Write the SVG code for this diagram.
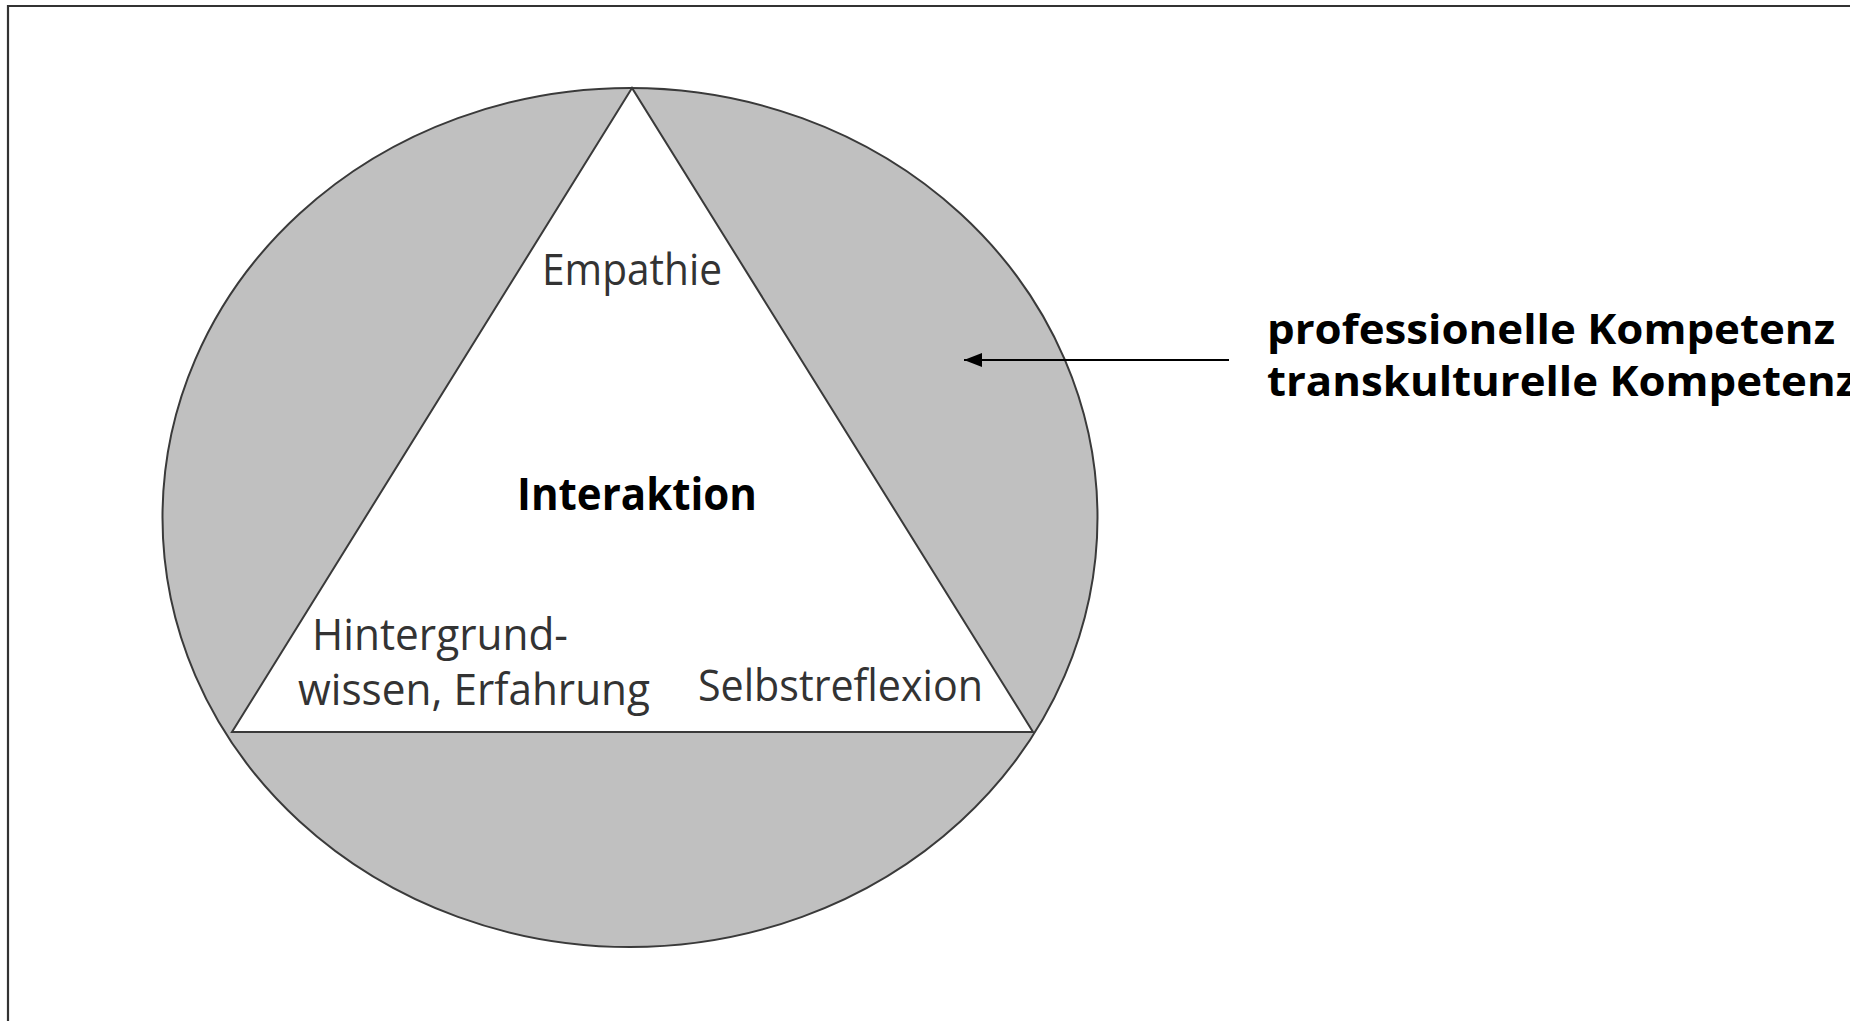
<svg xmlns="http://www.w3.org/2000/svg" width="1850" height="1021" viewBox="0 0 1850 1021">
  <defs>
    <style>
      .outline { fill: none; stroke: #333333; stroke-width: 2.2; }
      .shape { stroke: #3a3a3a; stroke-width: 2; }
      .label { font-family: "Open Sans", "Noto Sans", "DejaVu Sans", sans-serif; font-size: 44px; fill: #333333; }
      .bold { font-family: "Open Sans", "Noto Sans", "DejaVu Sans", sans-serif; font-weight: bold; fill: #000000; }
    </style>
    <!-- filled arrowhead, tip at the end of the line -->
    <marker id="arrowhead" markerWidth="18" markerHeight="14" refX="18" refY="7" orient="auto" markerUnits="userSpaceOnUse" viewBox="0 0 18 14">
      <path d="M0,0 L18,7 L0,14 Z" fill="#000000"/>
    </marker>
  </defs>
  <rect width="1850" height="1021" fill="#ffffff"/>

  <!-- frame (open to the right and bottom) -->
  <path class="outline" d="M8,1030 V6 H1860"/>

  <!-- outer ring: competence -->
  <g id="competence">
    <ellipse class="shape" cx="630" cy="517.5" rx="467.5" ry="429.5" fill="#c0c0c0"/>
  </g>

  <!-- inner triangle: interaction -->
  <g id="interaction">
    <polygon class="shape" points="632,88 232,732 1033,732" fill="#ffffff" stroke-linejoin="miter"/>
    <text class="bold" x="517" y="510" font-size="44" textLength="240" lengthAdjust="spacingAndGlyphs">Interaktion</text>
  </g>

  <g id="empathy">
    <text class="label" x="542" y="285" textLength="180" lengthAdjust="spacingAndGlyphs">Empathie</text>
  </g>

  <g id="background-knowledge">
    <text class="label" x="312" y="650" textLength="256" lengthAdjust="spacingAndGlyphs">Hintergrund-</text>
    <text class="label" x="298" y="705" textLength="352" lengthAdjust="spacingAndGlyphs">wissen, Erfahrung</text>
  </g>

  <g id="self-reflection">
    <text class="label" x="698" y="701" textLength="285" lengthAdjust="spacingAndGlyphs">Selbstreflexion</text>
  </g>

  <g id="competence-label">
    <text class="bold" x="1267" y="344" font-size="41" textLength="568" lengthAdjust="spacingAndGlyphs">professionelle Kompetenz</text>
    <text class="bold" x="1267" y="396" font-size="41" textLength="590" lengthAdjust="spacingAndGlyphs">transkulturelle Kompetenz</text>
  </g>

  <!-- connectors -->
  <g id="connectors">
    <line x1="1229" y1="360" x2="964" y2="360" stroke="#000000" stroke-width="2" marker-end="url(#arrowhead)"/>
  </g>
</svg>
